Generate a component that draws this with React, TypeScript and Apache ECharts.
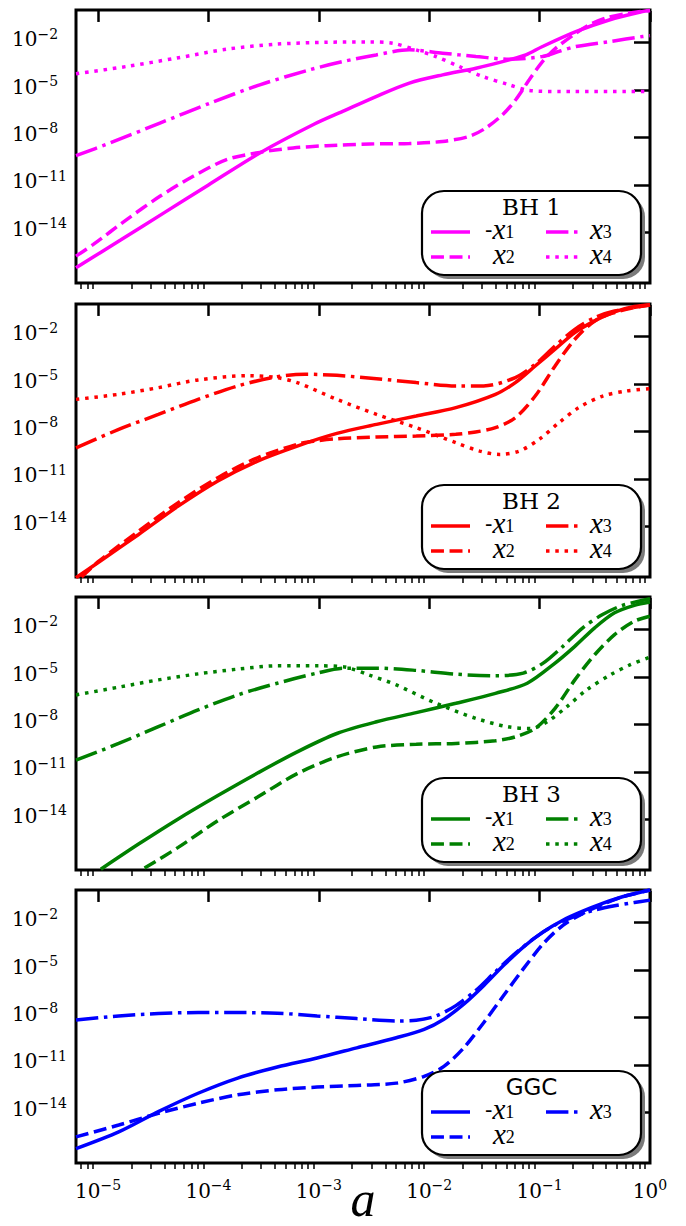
import React, { useEffect, useRef } from "react";
import * as echarts from "echarts";

type Pts = [number, number][];

// All values are decimal exponents: x = log10(a), y = log10(value)
const X_MIN = -5.2;
const X_MAX = 0;
const Y_MIN = -17.2;
const Y_MAX = 0.06;
const X_MAJOR_TICKS = [-5, -4, -3, -2, -1, 0];
const Y_MAJOR_TICKS = [-14, -11, -8, -5, -2];

// ---- BH 1 ----
const BH1_X1: Pts = [
  [-5.2, -16.23], [-4.8, -14.5], [-4.4, -12.75], [-4.0, -11.0], [-3.535, -8.98],
  [-3.04, -7.15], [-2.784, -6.35], [-2.482, -5.41], [-2.18, -4.56], [-1.879, -4.04],
  [-1.577, -3.62], [-1.275, -3.09], [-1.125, -2.78], [-0.974, -2.25], [-0.672, -1.31],
  [-0.37, -0.57], [-0.069, -0.04], [0, 0.03],
];
const BH1_X2: Pts = [
  [-5.2, -15.5], [-5.043, -14.76], [-4.741, -13.19], [-4.44, -11.72], [-4.138, -10.45],
  [-3.836, -9.4], [-3.535, -8.94], [-3.233, -8.66], [-2.931, -8.52], [-2.54, -8.41],
  [-2.18, -8.38], [-1.879, -8.25], [-1.638, -7.93], [-1.487, -7.4], [-1.336, -6.56],
  [-1.215, -5.6], [-1.094, -4.35], [-0.974, -3.2], [-0.853, -2.35], [-0.672, -1.41],
  [-0.551, -0.88], [-0.4, -0.45], [-0.2, -0.15], [0, 0.03],
];
const BH1_X3: Pts = [
  [-5.2, -9.15], [-4.892, -8.35], [-4.44, -7.09], [-3.987, -5.83], [-3.535, -4.67],
  [-3.082, -3.72], [-2.784, -3.2], [-2.482, -2.78], [-2.18, -2.46], [-1.879, -2.67],
  [-1.577, -2.88], [-1.275, -3.05], [-0.974, -2.88], [-0.823, -2.55], [-0.672, -2.25],
  [-0.37, -1.94], [-0.069, -1.62], [0, -1.56],
];
const BH1_X4: Pts = [
  [-5.2, -3.97], [-4.741, -3.51], [-4.289, -2.98], [-3.836, -2.42], [-3.384, -2.1],
  [-2.931, -1.98], [-2.54, -1.96], [-2.33, -2.04], [-2.12, -2.46], [-1.94, -2.88],
  [-1.728, -3.51], [-1.517, -4.14], [-1.275, -4.67], [-1.094, -5.03], [-0.823, -5.09],
  [0, -5.09],
];

// ---- BH 2 ----
const BH2_X1: Pts = [
  [-5.2, -17.25], [-4.95, -16.05], [-4.633, -14.51], [-4.274, -12.72], [-3.915, -11.13],
  [-3.555, -9.87], [-3.196, -8.92], [-2.837, -8.12], [-2.477, -7.55], [-2.118, -7.02],
  [-1.759, -6.49], [-1.4, -5.65], [-1.22, -4.91], [-1.04, -3.86], [-0.86, -2.8],
  [-0.681, -1.75], [-0.501, -1.01], [-0.321, -0.44], [-0.142, -0.1], [0, 0.0],
];
const BH2_X2: Pts = [
  [-5.15, -17.2], [-4.993, -16.2], [-4.633, -14.3], [-4.274, -12.5], [-3.915, -10.92],
  [-3.555, -9.66], [-3.196, -8.81], [-3.05, -8.62], [-2.837, -8.46], [-2.477, -8.35],
  [-2.118, -8.29], [-1.759, -8.18], [-1.58, -8.03], [-1.4, -7.76], [-1.22, -7.13],
  [-1.04, -5.76], [-0.86, -3.86], [-0.681, -2.17], [-0.501, -1.01], [-0.321, -0.48],
  [-0.142, -0.16], [0, 0.0],
];
const BH2_X3: Pts = [
  [-5.2, -9.03], [-4.813, -7.87], [-4.454, -6.92], [-4.094, -5.97], [-3.735, -5.12],
  [-3.376, -4.53], [-3.124, -4.38], [-2.837, -4.45], [-2.477, -4.66], [-2.118, -4.91],
  [-1.759, -5.12], [-1.507, -5.12], [-1.22, -4.59], [-1.04, -3.75], [-0.86, -2.59],
  [-0.681, -1.54], [-0.501, -0.8], [-0.321, -0.38], [0, 0.0],
];
const BH2_X4: Pts = [
  [-5.2, -5.97], [-4.813, -5.65], [-4.454, -5.23], [-4.094, -4.74], [-3.63, -4.47],
  [-3.376, -4.6], [-3.196, -4.91], [-2.837, -5.97], [-2.477, -6.92], [-2.118, -7.76],
  [-1.759, -8.71], [-1.543, -9.24], [-1.363, -9.45], [-1.184, -9.24], [-1.004, -8.5],
  [-0.824, -7.44], [-0.645, -6.49], [-0.429, -5.76], [-0.214, -5.44], [0, -5.29],
];

// ---- BH 3 ----
const BH3_X1: Pts = [
  [-4.975, -17.15], [-4.633, -15.56], [-4.274, -13.97], [-3.915, -12.49], [-3.555, -11.07],
  [-3.196, -9.73], [-2.837, -8.57], [-2.477, -7.83], [-2.118, -7.25], [-1.759, -6.66],
  [-1.4, -6.03], [-1.112, -5.39], [-0.86, -4.12], [-0.681, -3.06], [-0.501, -1.89],
  [-0.321, -0.94], [-0.142, -0.47], [0, -0.26],
];
const BH3_X2: Pts = [
  [-4.579, -17.08], [-4.274, -15.77], [-3.915, -14.08], [-3.555, -12.59], [-3.196, -11.11],
  [-2.837, -10.05], [-2.477, -9.42], [-2.118, -9.25], [-1.759, -9.2], [-1.4, -9.03],
  [-1.22, -8.78], [-1.04, -8.25], [-0.86, -6.98], [-0.681, -5.18], [-0.501, -3.59],
  [-0.321, -2.32], [-0.142, -1.47], [0, -1.15],
];
const BH3_X3: Pts = [
  [-5.2, -10.26], [-4.813, -9.2], [-4.454, -8.14], [-4.094, -7.08], [-3.735, -6.13],
  [-3.376, -5.39], [-3.016, -4.75], [-2.765, -4.44], [-2.477, -4.44], [-2.118, -4.58],
  [-1.759, -4.82], [-1.4, -4.92], [-1.148, -4.75], [-0.968, -4.12], [-0.789, -3.06],
  [-0.609, -1.89], [-0.43, -1.05], [-0.25, -0.47], [0, -0.05],
];
const BH3_X4: Pts = [
  [-5.2, -6.13], [-4.813, -5.64], [-4.454, -5.18], [-4.094, -4.8], [-3.735, -4.5],
  [-3.376, -4.29], [-3.016, -4.29], [-2.765, -4.37], [-2.55, -4.86], [-2.298, -5.5],
  [-1.938, -6.66], [-1.579, -7.61], [-1.292, -8.14], [-1.076, -8.25], [-0.932, -7.83],
  [-0.752, -6.87], [-0.573, -5.81], [-0.358, -4.86], [-0.178, -4.22], [0, -3.74],
];

// ---- GGC ----
const GGC_X1: Pts = [
  [-5.2, -16.29], [-4.813, -15.23], [-4.454, -13.95], [-4.094, -12.79], [-3.735, -11.83],
  [-3.376, -11.13], [-3.016, -10.56], [-2.657, -9.92], [-2.298, -9.28], [-2.046, -8.75],
  [-1.867, -8.11], [-1.687, -7.16], [-1.507, -5.99], [-1.328, -4.72], [-1.148, -3.55],
  [-0.968, -2.59], [-0.789, -1.85], [-0.609, -1.28], [-0.43, -0.79], [-0.25, -0.37],
  [0, 0.06],
];
const GGC_X2: Pts = [
  [-5.2, -15.55], [-4.813, -14.8], [-4.454, -14.06], [-4.094, -13.42], [-3.735, -12.89],
  [-3.376, -12.57], [-3.016, -12.4], [-2.657, -12.3], [-2.298, -12.15], [-2.046, -11.72],
  [-1.867, -11.09], [-1.687, -9.92], [-1.507, -8.33], [-1.328, -6.63], [-1.148, -4.93],
  [-0.968, -3.34], [-0.789, -2.17], [-0.609, -1.43], [-0.43, -0.85], [-0.25, -0.37],
  [0, 0.06],
];
const GGC_X3: Pts = [
  [-5.2, -8.16], [-4.813, -7.9], [-4.454, -7.75], [-4.094, -7.69], [-3.735, -7.69],
  [-3.376, -7.73], [-3.016, -7.9], [-2.657, -8.07], [-2.298, -8.22], [-2.118, -8.18],
  [-1.938, -7.9], [-1.759, -7.25], [-1.579, -6.3], [-1.4, -5.1], [-1.22, -3.95],
  [-1.04, -2.95], [-0.86, -2.15], [-0.681, -1.6], [-0.501, -1.21], [-0.321, -0.94],
  [-0.142, -0.73], [0, -0.58],
];

const SERIF = "'DejaVu Serif', 'Liberation Serif', serif";
const SANS = "'DejaVu Sans', 'Liberation Sans', sans-serif";
const MATH = "'Liberation Serif', 'Times New Roman', serif";

const PANELS = [
  { title: "BH 1", titleFont: SERIF, color: "#ff00ff", series: [BH1_X1, BH1_X2, BH1_X3, BH1_X4] },
  { title: "BH 2", titleFont: SERIF, color: "#ff0000", series: [BH2_X1, BH2_X2, BH2_X3, BH2_X4] },
  { title: "BH 3", titleFont: SERIF, color: "#008000", series: [BH3_X1, BH3_X2, BH3_X3, BH3_X4] },
  { title: "GGC", titleFont: SANS, color: "#0000ff", series: [GGC_X1, GGC_X2, GGC_X3] },
];

const LW = 3.5;
const DASHES: any[] = [
  "solid",
  [12.95, 5.6],
  [22.4, 5.6, 3.5, 5.6],
  [3.5, 5.78],
];

const GRID_TOPS = [10, 304, 597, 890];
const GRID_LEFT = 76;
const GRID_W = 574;
const GRID_H = 273;

function minorTicks(): number[] {
  const out: number[] = [];
  for (let n = -6; n <= -1; n++) {
    for (let k = 2; k <= 9; k++) {
      const v = n + Math.log10(k);
      if (v > X_MIN && v < X_MAX) out.push(v);
    }
  }
  return out;
}

const tickRich = {
  b: { fontFamily: SERIF, fontSize: 20, lineHeight: 20, color: "#000", padding: [5, 0, 0, 0] },
  s: { fontFamily: SERIF, fontSize: 14, lineHeight: 14, color: "#000", verticalAlign: "top" },
};
const fmtPow = (v: number) => `{b|10}{s|${v < 0 ? "\u2212" + Math.abs(v) : String(v)}}`;

function legendGraphics(i: number) {
  const p = PANELS[i];
  const bottom = GRID_TOPS[i] + GRID_H;
  const bx = 422;
  const by = bottom - 92;
  const bw = 219;
  const bh = 84;
  const els: any[] = [];
  els.push({
    type: "rect", z: 100,
    shape: { x: bx + 4, y: by + 4, width: bw, height: bh, r: 22 },
    style: { fill: "#7a7a7a" },
  });
  els.push({
    type: "rect", z: 101,
    shape: { x: bx, y: by, width: bw, height: bh, r: 22 },
    style: { fill: "#ffffff", stroke: "#000000", lineWidth: 2.2 },
  });
  els.push({
    type: "text", z: 102, x: bx + bw / 2, y: by + 16,
    style: {
      text: p.title, fill: "#000", fontFamily: p.titleFont, fontSize: 23, lineHeight: 20,
      align: "center", verticalAlign: "middle",
    },
  });
  const rows = [by + 41, by + 66];
  const rich = {
    h: { fontFamily: SERIF, fontSize: 22, lineHeight: 17, color: "#000", padding: [0, 0, 5, 0] },
    x: { fontFamily: MATH, fontStyle: "italic", fontSize: 29, lineHeight: 17, color: "#000", padding: [0, 0, 7, 0] },
    s: { fontFamily: MATH, fontSize: 18, lineHeight: 16, color: "#000", verticalAlign: "bottom" },
  };
  const entries = [
    { col: 0, row: 0, text: "{h|-}{x|x}{s|1}", tx: 485 },
    { col: 0, row: 1, text: "{x|x}{s|2}", tx: 493 },
    { col: 1, row: 0, text: "{x|x}{s|3}", tx: 590 },
    { col: 1, row: 1, text: "{x|x}{s|4}", tx: 590 },
  ];
  p.series.forEach((_, k) => {
    const e = entries[k];
    const y = rows[e.row];
    const x1 = e.col === 0 ? 431 : 546;
    const x2 = e.col === 0 ? 470 : 582;
    const dash = DASHES[k];
    els.push({
      type: "line", z: 102,
      shape: { x1, y1: y, x2, y2: y },
      style: {
        stroke: p.color, lineWidth: LW,
        lineDash: dash === "solid" ? null : dash, lineCap: "butt",
      },
    });
    els.push({
      type: "text", z: 102, x: e.tx, y: y,
      style: { text: e.text, rich, align: "left", verticalAlign: "middle" },
    });
  });
  return els;
}

export default function App() {
  const ref = useRef<HTMLDivElement>(null);
  useEffect(() => {
    document.body.style.margin = "0";
    if (!ref.current) return;
    const chart = echarts.init(ref.current, undefined, { renderer: "svg" });
    const minors = minorTicks();

    const grid: any[] = [];
    const xAxis: any[] = [];
    const yAxis: any[] = [];
    const series: any[] = [];
    let graphics: any[] = [];

    PANELS.forEach((p, i) => {
      grid.push({
        left: GRID_LEFT, top: GRID_TOPS[i], width: GRID_W, height: GRID_H,
        show: true, borderColor: "#000", borderWidth: 3, backgroundColor: "transparent",
      });
      xAxis.push({
        type: "value", gridIndex: i, min: X_MIN, max: X_MAX, position: "bottom",
        axisLine: { show: false },
        axisTick: { show: true, customValues: X_MAJOR_TICKS, length: 11, lineStyle: { color: "#000", width: 2.5 } },
        axisLabel: i === 3
          ? { show: true, customValues: X_MAJOR_TICKS, formatter: fmtPow, rich: tickRich, margin: 15, fontFamily: SERIF }
          : { show: false },
        splitLine: { show: false },
      });
      xAxis.push({
        type: "value", gridIndex: i, min: X_MIN, max: X_MAX, position: "bottom",
        axisLine: { show: false },
        axisTick: { show: true, customValues: minors, length: 6, lineStyle: { color: "#000", width: 1.5 } },
        axisLabel: { show: false },
        splitLine: { show: false },
      });
      yAxis.push({
        type: "value", gridIndex: i, min: Y_MIN, max: Y_MAX,
        axisLine: { show: false },
        axisTick: { show: true, customValues: Y_MAJOR_TICKS, length: 16, lineStyle: { color: "#000", width: 2.5 } },
        axisLabel: {
          show: true, customValues: Y_MAJOR_TICKS, formatter: fmtPow, rich: tickRich, fontFamily: SERIF,
          margin: 64, align: "left", verticalAlign: "middle", padding: [0, 0, 12, 0],
        },
        splitLine: { show: false },
      });
      p.series.forEach((data, k) => {
        series.push({
          type: "line", xAxisIndex: 2 * i, yAxisIndex: i, data,
          showSymbol: false, symbol: "none", smooth: 0.3, silent: true, z: 3,
          lineStyle: { color: p.color, width: LW, type: DASHES[k], cap: "butt" },
        });
      });
      graphics = graphics.concat(legendGraphics(i));
    });

    graphics.push({
      type: "text", z: 102, x: GRID_LEFT + GRID_W / 2, y: 1199,
      style: {
        text: "a", fill: "#000", fontFamily: MATH, fontStyle: "italic", fontSize: 50, lineHeight: 36,
        align: "center", verticalAlign: "middle",
      },
    });

    chart.setOption({
      animation: false,
      backgroundColor: "#ffffff",
      grid, xAxis, yAxis, series,
      graphic: { elements: graphics },
    });
    return () => chart.dispose();
  }, []);
  return <div ref={ref} style={{ width: 686, height: 1226 }} />;
}
